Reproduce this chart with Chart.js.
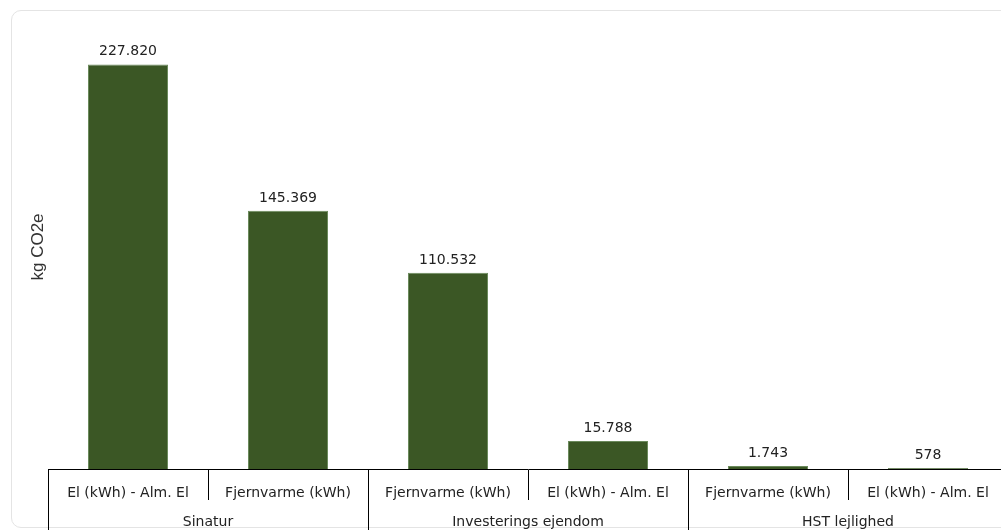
<!DOCTYPE html>
<html>
<head>
<meta charset="utf-8">
<script src="https://cdn.jsdelivr.net/npm/chart.js@4.4.1/dist/chart.umd.min.js"></script>
<style>
  html, body { margin: 0; padding: 0; width: 1001px; height: 530px; overflow: hidden; background: #fff; }
  .card { position: absolute; left: 11px; top: 10px; width: 1100px; height: 516px; border: 1px solid #e4e4e4; border-radius: 10px; }
  #chart { position: absolute; left: 0; top: 0; }
</style>
</head>
<body>
<div class="card"></div>
<canvas id="chart" width="1010" height="530"></canvas>
<script>
// data
const categories = ['El (kWh) - Alm. El', 'Fjernvarme (kWh)', 'Fjernvarme (kWh)', 'El (kWh) - Alm. El', 'Fjernvarme (kWh)', 'El (kWh) - Alm. El'];
const groups = ['Sinatur', 'Investerings ejendom', 'HST lejlighed'];
const values = [227820, 145369, 110532, 15788, 1743, 578];
const yTitle = 'kg CO2e';
const yMax = 250000;

const labelFont = '"DejaVu Sans", sans-serif';

// danish thousands separator
function fmt(v) {
    return String(v).replace(/\B(?=(\d{3})+(?!\d))/g, '.');
}

const barLabels = {
    id: 'barLabels',
    afterDatasetsDraw(chart) {
        const ctx = chart.ctx;
        const meta = chart.getDatasetMeta(0);
        ctx.save();
        ctx.font = '14px ' + labelFont;
        ctx.fillStyle = '#222';
        ctx.textAlign = 'center';
        ctx.textBaseline = 'alphabetic';
        meta.data.forEach((bar, i) => {
            ctx.fillText(fmt(values[i]), bar.x, bar.y - 9);
        });
        ctx.restore();
    }
};

const ctx = document.getElementById('chart').getContext('2d');
const chart = new Chart(ctx, {
    type: 'bar',
    data: {
        labels: categories,
        datasets: [{
            data: values,
            backgroundColor: '#3b5725',
            borderColor: '#6b8a5c',
            borderWidth: 1,
            barPercentage: 1,
            categoryPercentage: 0.5
        }]
    },
    options: {
        responsive: false,
        animation: false,
        layout: { padding: { top: 25, left: 0, right: 2, bottom: 0 } },
        plugins: {
            legend: { display: false },
            tooltip: { enabled: false }
        },
        scales: {
            y: {
                min: 0,
                max: yMax,
                ticks: { display: false },
                grid: { display: false },
                border: { display: false },
                title: {
                    display: true,
                    text: yTitle,
                    color: '#333',
                    font: { family: '"Liberation Sans", Arial, sans-serif', size: 17 },
                    padding: { top: 28, bottom: 0 }
                },
                afterFit(scale) { scale.width = 48; }
            },
            x: {
                offset: true,
                grid: { offset: true, drawOnChartArea: false, tickLength: 31, color: '#000', lineWidth: 1 },
                border: { display: true, color: '#000', width: 1 },
                ticks: { padding: -15, color: '#222', autoSkip: false, maxRotation: 0, font: { family: labelFont, size: 14 } },
                afterFit(scale) { scale.height = 31; }
            },
            x2: {
                type: 'category',
                labels: groups,
                position: 'bottom',
                offset: true,
                grid: { offset: true, drawOnChartArea: false, tickLength: 30, color: '#000', lineWidth: 1 },
                border: { display: false },
                ticks: { padding: -16, color: '#222', autoSkip: false, maxRotation: 0, font: { family: labelFont, size: 14 } },
                afterFit(scale) { scale.height = 30; }
            }
        }
    },
    plugins: [barLabels]
});
</script>
</body>
</html>
